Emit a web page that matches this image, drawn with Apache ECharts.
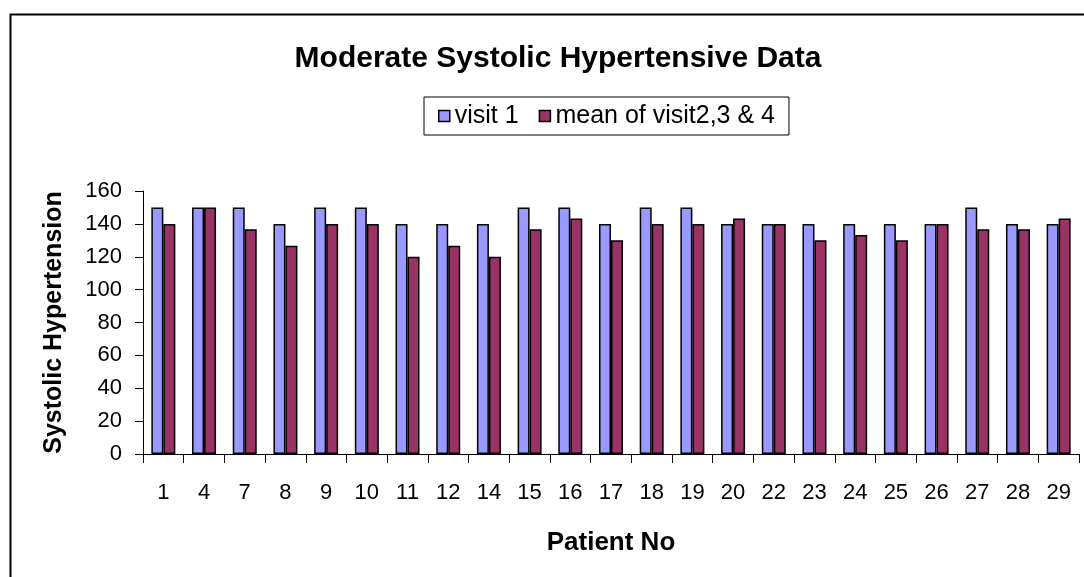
<!DOCTYPE html>
<html>
<head>
<meta charset="utf-8">
<script src="https://cdn.jsdelivr.net/npm/echarts@6/dist/echarts.min.js"></script>
<style>
  html, body { margin: 0; padding: 0; background: #fff; }
  #main { width: 1084px; height: 577px; }
</style>
</head>
<body>
<div id="main"></div>
<script>
// patient numbers on the x axis
const patients = ['1', '4', '7', '8', '9', '10', '11', '12', '14', '15', '16', '17',
  '18', '19', '20', '22', '23', '24', '25', '26', '27', '28', '29'];
// systolic pressure, first visit
const visit1 = [150, 150, 150, 140, 150, 150, 140, 140, 140, 150, 150, 140,
  150, 150, 140, 140, 140, 140, 140, 140, 150, 140, 140];
// mean of visits 2, 3 and 4
const meanVisit234 = [140, 150, 136.7, 126.7, 140, 140, 120, 126.7, 120, 136.7, 143.3, 130,
  140, 140, 143.3, 140, 130, 133.3, 130, 140, 136.7, 136.7, 143.3];
const yTicks = { min: 0, max: 160, interval: 20 };

const font = 'Liberation Sans, Arial, sans-serif';
const chart = echarts.init(document.getElementById('main'), null, { renderer: 'canvas' });

const option = {
  backgroundColor: '#fff',
  animation: false,
  title: {
    text: 'Moderate Systolic Hypertensive Data',
    left: 553,
    top: 39,
    textAlign: 'center',
    textStyle: { fontFamily: font, fontSize: 30, fontWeight: 'bold', color: '#000' }
  },
  legend: {
    left: 424,
    top: 97,
    padding: [6, 14],
    itemGap: 20,
    itemWidth: 11,
    itemHeight: 11,
    borderColor: '#000',
    borderWidth: 1,
    icon: 'rect',
    itemStyle: { borderColor: '#000', borderWidth: 1.5 },
    textStyle: { fontFamily: font, fontSize: 25, lineHeight: 26, color: '#000' },
    data: ['visit 1', 'mean of visit2,3 & 4']
  },
  grid: {
    left: 143,
    right: 5,
    top: 191,
    bottom: 123,
    containLabel: false,
    outerBoundsMode: 'none'
  },
  xAxis: {
    type: 'category',
    data: patients,
    name: 'Patient No',
    nameLocation: 'middle',
    nameGap: 76,
    nameTextStyle: { fontFamily: font, fontSize: 26, fontWeight: 'bold', color: '#000' },
    axisLine: { lineStyle: { color: '#000', width: 1 } },
    axisTick: { show: true, length: 9, lineStyle: { color: '#000' } },
    axisLabel: { fontFamily: font, fontSize: 22, color: '#000', margin: 28, interval: 0 },
    splitLine: { show: false }
  },
  yAxis: {
    type: 'value',
    min: yTicks.min,
    max: yTicks.max,
    interval: yTicks.interval,
    name: 'Systolic Hypertension',
    nameLocation: 'middle',
    nameGap: 76,
    nameTextStyle: { fontFamily: font, fontSize: 25, fontWeight: 'bold', color: '#000' },
    axisLine: { show: true, lineStyle: { color: '#000', width: 1 } },
    axisTick: { show: true, length: 8, lineStyle: { color: '#000' } },
    axisLabel: { fontFamily: font, fontSize: 22, color: '#000', margin: 21 },
    splitLine: { show: false }
  },
  series: [
    {
      name: 'visit 1',
      type: 'bar',
      data: visit1,
      barWidth: 12,
      barGap: '0%',
      itemStyle: { color: '#9999FF', borderColor: '#000', borderWidth: 1.5 }
    },
    {
      name: 'mean of visit2,3 & 4',
      type: 'bar',
      data: meanVisit234,
      barWidth: 12,
      barGap: '0%',
      itemStyle: { color: '#993366', borderColor: '#000', borderWidth: 1.5 }
    }
  ],
  graphic: [{
    // outer chart frame, runs off the right and bottom edges
    type: 'rect',
    left: 8,
    top: 12,
    shape: { x: 0, y: 0, width: 1100, height: 600 },
    style: { fill: 'none', stroke: '#000', lineWidth: 2 },
    silent: true
  }]
};

chart.setOption(option);
</script>
</body>
</html>
